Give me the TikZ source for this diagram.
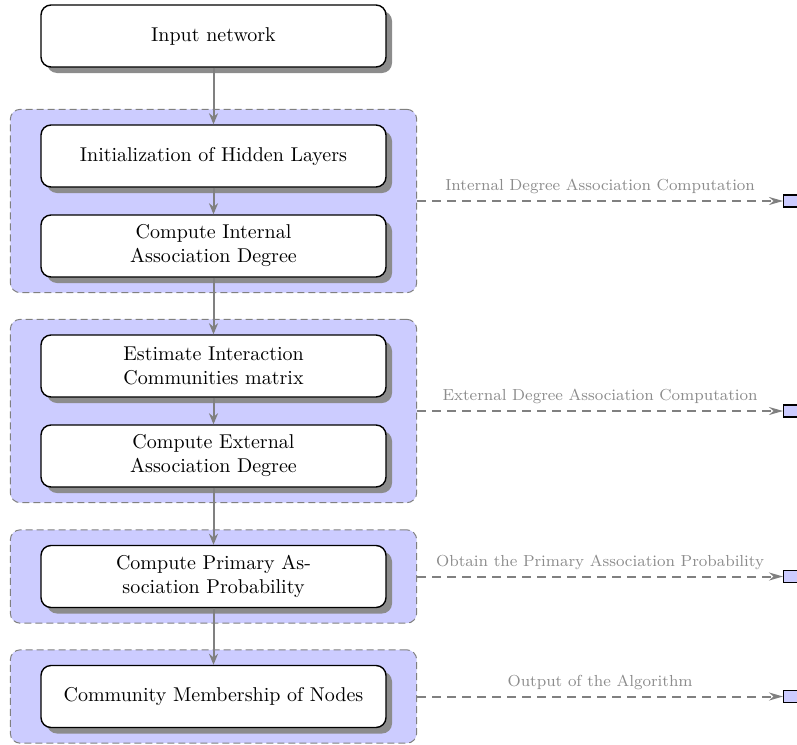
\documentclass[tikz,border=0pt]{standalone}
\usetikzlibrary{shadows,fit,backgrounds,arrows.meta}
\begin{document}
\begin{tikzpicture}[x=0.5pt,y=-0.5pt,
 stepbox/.style={draw=black, line width=0.7pt, fill=white, rounded corners=5pt,
   minimum width=172.5pt, minimum height=31pt, align=center, inner sep=2pt,
   drop shadow={shadow xshift=3pt, shadow yshift=-3pt, fill=black!45, opacity=1}},
 grp/.style={draw=black!50, line width=0.5pt, dash pattern=on 3.5pt off 2pt, fill=blue!20, rounded corners=5pt,
   inner xsep=15pt, inner ysep=7.5pt},
 flow/.style={draw=black!50, line width=1pt, -{Stealth[length=5.5pt,width=4.5pt]}},
 side/.style={draw=black!50, line width=1pt, dash pattern=on 4.5pt off 3pt, -{Stealth[length=7pt,width=4pt]}},
 outbox/.style={draw=black, fill=blue!20, minimum width=8pt, minimum height=6pt, inner sep=0pt, line width=0.7pt},
 lbl/.style={text=black!45, font=\footnotesize, above, inner sep=3pt}]

\useasboundingbox (0,0) rectangle (797,744);

\node[stepbox] (b0) at (213.5,36) {Input network};
\node[stepbox] (b1) at (213.5,156) {Initialization of Hidden Layers};
\node[stepbox] (b2) at (213.5,246) {Compute Internal\\Association Degree};
\node[stepbox] (b3) at (213.5,366) {Estimate Interaction\\Communities matrix};
\node[stepbox] (b4) at (213.5,456) {Compute External\\Association Degree};
\node[stepbox] (b5) at (213.5,576.5) {Compute Primary As-\\sociation Probability};
\node[stepbox] (b6) at (213.5,696.5) {Community Membership of Nodes};

\begin{scope}[on background layer]
\node[grp, fit=(b1)(b2)] (g1) {};
\node[grp, fit=(b3)(b4)] (g2) {};
\node[grp, fit=(b5)] (g3) {};
\node[grp, fit=(b6)] (g4) {};
\end{scope}

\draw[flow] (b0) -- (b1);
\draw[flow] (b1) -- (b2);
\draw[flow] (b2) -- (b3);
\draw[flow] (b3) -- (b4);
\draw[flow] (b4) -- (b5);
\draw[flow] (b5) -- (b6);

\coordinate (rx) at (783,0);
\node[outbox, anchor=west] (o1) at (rx |- g1.east) {};
\node[outbox, anchor=west] (o2) at (rx |- g2.east) {};
\node[outbox, anchor=west] (o3) at (rx |- g3.east) {};
\node[outbox, anchor=west] (o4) at (rx |- g4.east) {};

\draw[side] (g1.east) -- node[lbl] {Internal Degree Association Computation} (o1.west);
\draw[side] (g2.east) -- node[lbl] {External Degree Association Computation} (o2.west);
\draw[side] (g3.east) -- node[lbl] {Obtain the Primary Association Probability} (o3.west);
\draw[side] (g4.east) -- node[lbl] {Output of the Algorithm} (o4.west);
\end{tikzpicture}
\end{document}
